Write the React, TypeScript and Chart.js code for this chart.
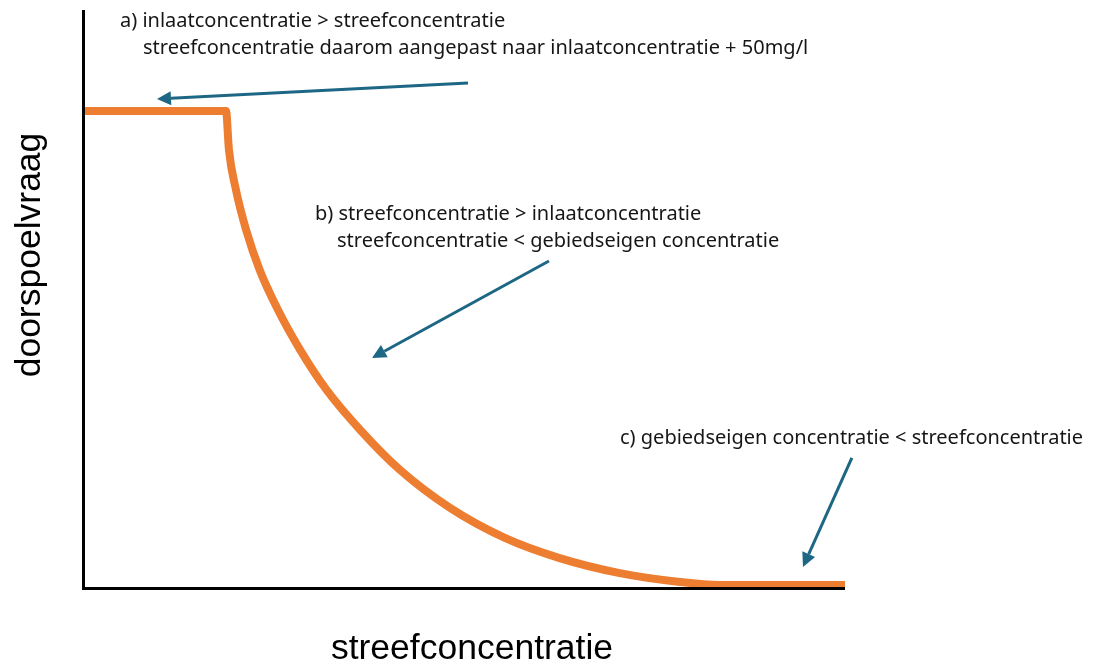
import React, { useEffect, useRef } from "react";
import { Chart, registerables } from "chart.js";

Chart.register(...registerables);

// Curve: streefconcentratie (x) vs doorspoelvraag (y), arbitrary units
const curveX = [0, 18.66, 19.05, 19.97, 21.3, 23.1, 25.5, 28.4, 31.9, 36.3, 41.5, 48.1, 55.3, 62.5, 70.4, 78.3, 83.6, 100];
const curveY = [82.5, 82.5, 75.7, 68.8, 61.9, 54.9, 48.0, 41.1, 34.1, 27.2, 20.3, 13.7, 8.5, 5.0, 2.4, 0.87, 0.35, 0.35];

const xTitle = "streefconcentratie";
const yTitle = "doorspoelvraag";

const noteLinesA = [
  "a) inlaatconcentratie > streefconcentratie",
  "streefconcentratie daarom aangepast naar inlaatconcentratie + 50mg/l",
];
const noteLinesB = [
  "b) streefconcentratie > inlaatconcentratie",
  "streefconcentratie < gebiedseigen concentratie",
];
const noteLinesC = ["c) gebiedseigen concentratie < streefconcentratie"];

// arrows in data units: [fromX, fromY, toX, toY]
const arrowA = [50.46, 87.35, 9.59, 84.58];
const arrowB = [61.1, 56.5, 37.85, 39.7];
const arrowC = [100.9, 22.36, 94.48, 3.47];

const ORANGE = "#ED7D31";
const ARROW = "#1D6785";

const noteFont = "20px 'Noto Sans', sans-serif";
const titleFont = "35.5px 'Liberation Sans', Arial, sans-serif";

const notes = [
  { lines: noteLinesA, x: [120, 143], y: [27, 54] },
  { lines: noteLinesB, x: [315, 337], y: [220, 247] },
  { lines: noteLinesC, x: [620], y: [444] },
];

const decorPlugin = {
  id: "decor",
  afterDatasetsDraw(chart: any) {
    const { ctx, chartArea, scales } = chart;
    const xs = scales.x;
    const ys = scales.y;
    ctx.save();
    // axes
    ctx.strokeStyle = "#000";
    ctx.lineWidth = 3;
    ctx.beginPath();
    ctx.moveTo(chartArea.left - 0.5, chartArea.top);
    ctx.lineTo(chartArea.left - 0.5, chartArea.bottom + 1.5);
    ctx.lineTo(chartArea.right, chartArea.bottom + 1.5);
    ctx.stroke();

    // arrows
    const drawArrow = (a: number[]) => {
      const x1 = xs.getPixelForValue(a[0]);
      const y1 = ys.getPixelForValue(a[1]);
      const x2 = xs.getPixelForValue(a[2]);
      const y2 = ys.getPixelForValue(a[3]);
      const ang = Math.atan2(y2 - y1, x2 - x1);
      const head = 14;
      const hw = 7;
      const bx = x2 - head * Math.cos(ang);
      const by = y2 - head * Math.sin(ang);
      ctx.strokeStyle = ARROW;
      ctx.fillStyle = ARROW;
      ctx.lineWidth = 3;
      ctx.beginPath();
      ctx.moveTo(x1, y1);
      ctx.lineTo(bx, by);
      ctx.stroke();
      ctx.beginPath();
      ctx.moveTo(x2, y2);
      ctx.lineTo(bx + hw * Math.sin(ang), by - hw * Math.cos(ang));
      ctx.lineTo(bx - hw * Math.sin(ang), by + hw * Math.cos(ang));
      ctx.closePath();
      ctx.fill();
    };
    drawArrow(arrowA);
    drawArrow(arrowB);
    drawArrow(arrowC);

    // notes
    ctx.fillStyle = "#161616";
    ctx.font = noteFont;
    ctx.textAlign = "left";
    ctx.textBaseline = "alphabetic";
    notes.forEach((n) => {
      n.lines.forEach((l, i) => ctx.fillText(l, n.x[i], n.y[i]));
    });

    // axis titles
    ctx.font = titleFont;
    ctx.textAlign = "center";
    ctx.fillStyle = "#000";
    ctx.fillText(xTitle, 472, 659);
    ctx.translate(40, 255);
    ctx.rotate(-Math.PI / 2);
    ctx.fillText(yTitle, 0, 0);
    ctx.restore();
  },
};

export default function App() {
  const ref = useRef<HTMLCanvasElement | null>(null);
  useEffect(() => {
    document.body.style.margin = "0";
    if (!ref.current) return;
    const chart = new Chart(ref.current, {
      type: "line",
      data: {
        datasets: [
          {
            data: curveX.map((x, i) => ({ x, y: curveY[i] })),
            borderColor: ORANGE,
            borderWidth: 8,
            pointRadius: 0,
            cubicInterpolationMode: "monotone",
            fill: false,
            clip: false as any,
            borderCapStyle: "butt",
            borderJoinStyle: "miter",
          } as any,
        ],
      },
      options: {
        animation: false,
        responsive: false,
        maintainAspectRatio: false,
        layout: { padding: { left: 84, top: 10, right: 253, bottom: 80 } },
        plugins: { legend: { display: false }, tooltip: { enabled: false } },
        scales: {
          x: { type: "linear", min: 0, max: 100, display: false },
          y: { type: "linear", min: 0, max: 100, display: false },
        },
      },
      plugins: [decorPlugin],
    });
    return () => chart.destroy();
  }, []);
  return (
    <div style={{ width: 1098, height: 667, background: "#fff" }}>
      <canvas ref={ref} width={1098} height={667} />
    </div>
  );
}
